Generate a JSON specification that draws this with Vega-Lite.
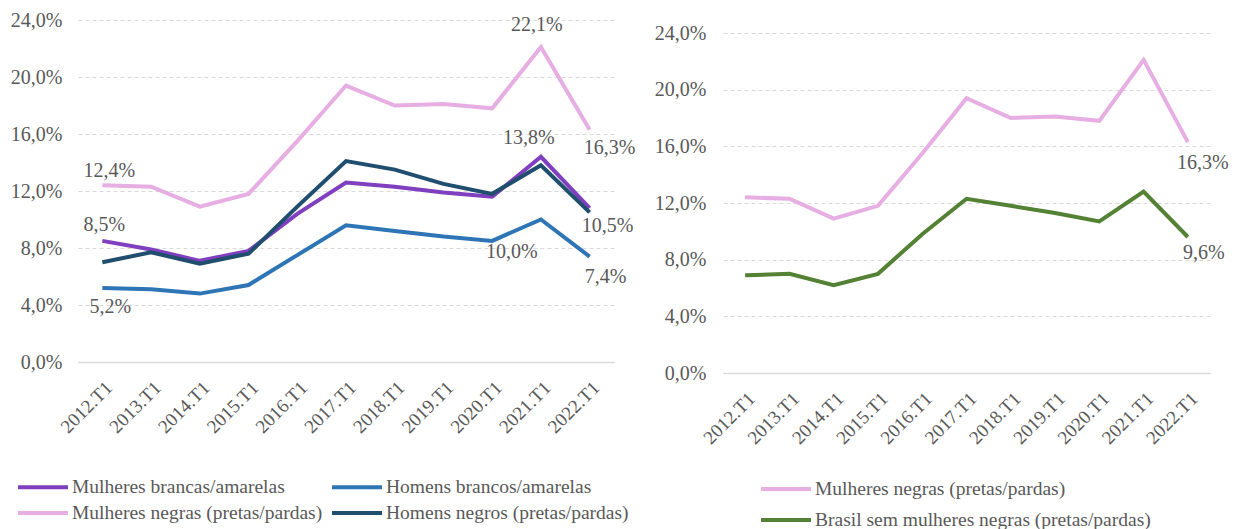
{
  "$schema": "https://vega.github.io/schema/vega-lite/v6.json",
  "padding": {"left": 10, "top": 10, "right": 0, "bottom": 0},
  "background": "white",
  "config": {
    "view": {"stroke": null},
    "locale": {"number": {"decimal": ",", "thousands": ".", "grouping": [3], "currency": ["R$", ""]}},
    "text": {"font": "Liberation Serif", "fontSize": 20, "color": "#595959"},
    "axis": {"labelFont": "Liberation Serif", "labelColor": "#595959", "title": null}
  },
  "datasets": {
    "esq": [
      {"ano": "2012.T1", "serie": "Mulheres brancas/amarelas", "v": 0.085},
      {"ano": "2013.T1", "serie": "Mulheres brancas/amarelas", "v": 0.079},
      {"ano": "2014.T1", "serie": "Mulheres brancas/amarelas", "v": 0.071},
      {"ano": "2015.T1", "serie": "Mulheres brancas/amarelas", "v": 0.078},
      {"ano": "2016.T1", "serie": "Mulheres brancas/amarelas", "v": 0.104},
      {"ano": "2017.T1", "serie": "Mulheres brancas/amarelas", "v": 0.126},
      {"ano": "2018.T1", "serie": "Mulheres brancas/amarelas", "v": 0.123},
      {"ano": "2019.T1", "serie": "Mulheres brancas/amarelas", "v": 0.119},
      {"ano": "2020.T1", "serie": "Mulheres brancas/amarelas", "v": 0.116},
      {"ano": "2021.T1", "serie": "Mulheres brancas/amarelas", "v": 0.144},
      {"ano": "2022.T1", "serie": "Mulheres brancas/amarelas", "v": 0.108},
      {"ano": "2012.T1", "serie": "Homens brancos/amarelas", "v": 0.052},
      {"ano": "2013.T1", "serie": "Homens brancos/amarelas", "v": 0.051},
      {"ano": "2014.T1", "serie": "Homens brancos/amarelas", "v": 0.048},
      {"ano": "2015.T1", "serie": "Homens brancos/amarelas", "v": 0.054},
      {"ano": "2016.T1", "serie": "Homens brancos/amarelas", "v": 0.075},
      {"ano": "2017.T1", "serie": "Homens brancos/amarelas", "v": 0.096},
      {"ano": "2018.T1", "serie": "Homens brancos/amarelas", "v": 0.092},
      {"ano": "2019.T1", "serie": "Homens brancos/amarelas", "v": 0.088},
      {"ano": "2020.T1", "serie": "Homens brancos/amarelas", "v": 0.085},
      {"ano": "2021.T1", "serie": "Homens brancos/amarelas", "v": 0.100},
      {"ano": "2022.T1", "serie": "Homens brancos/amarelas", "v": 0.074},
      {"ano": "2012.T1", "serie": "Mulheres negras (pretas/pardas)", "v": 0.124},
      {"ano": "2013.T1", "serie": "Mulheres negras (pretas/pardas)", "v": 0.123},
      {"ano": "2014.T1", "serie": "Mulheres negras (pretas/pardas)", "v": 0.109},
      {"ano": "2015.T1", "serie": "Mulheres negras (pretas/pardas)", "v": 0.118},
      {"ano": "2016.T1", "serie": "Mulheres negras (pretas/pardas)", "v": 0.155},
      {"ano": "2017.T1", "serie": "Mulheres negras (pretas/pardas)", "v": 0.194},
      {"ano": "2018.T1", "serie": "Mulheres negras (pretas/pardas)", "v": 0.180},
      {"ano": "2019.T1", "serie": "Mulheres negras (pretas/pardas)", "v": 0.181},
      {"ano": "2020.T1", "serie": "Mulheres negras (pretas/pardas)", "v": 0.178},
      {"ano": "2021.T1", "serie": "Mulheres negras (pretas/pardas)", "v": 0.221},
      {"ano": "2022.T1", "serie": "Mulheres negras (pretas/pardas)", "v": 0.163},
      {"ano": "2012.T1", "serie": "Homens negros (pretas/pardas)", "v": 0.070},
      {"ano": "2013.T1", "serie": "Homens negros (pretas/pardas)", "v": 0.077},
      {"ano": "2014.T1", "serie": "Homens negros (pretas/pardas)", "v": 0.069},
      {"ano": "2015.T1", "serie": "Homens negros (pretas/pardas)", "v": 0.076},
      {"ano": "2016.T1", "serie": "Homens negros (pretas/pardas)", "v": 0.109},
      {"ano": "2017.T1", "serie": "Homens negros (pretas/pardas)", "v": 0.141},
      {"ano": "2018.T1", "serie": "Homens negros (pretas/pardas)", "v": 0.135},
      {"ano": "2019.T1", "serie": "Homens negros (pretas/pardas)", "v": 0.125},
      {"ano": "2020.T1", "serie": "Homens negros (pretas/pardas)", "v": 0.118},
      {"ano": "2021.T1", "serie": "Homens negros (pretas/pardas)", "v": 0.138},
      {"ano": "2022.T1", "serie": "Homens negros (pretas/pardas)", "v": 0.105}
    ],
    "dir": [
      {"ano": "2012.T1", "serie": "Mulheres negras (pretas/pardas)", "v": 0.124},
      {"ano": "2013.T1", "serie": "Mulheres negras (pretas/pardas)", "v": 0.123},
      {"ano": "2014.T1", "serie": "Mulheres negras (pretas/pardas)", "v": 0.109},
      {"ano": "2015.T1", "serie": "Mulheres negras (pretas/pardas)", "v": 0.118},
      {"ano": "2016.T1", "serie": "Mulheres negras (pretas/pardas)", "v": 0.155},
      {"ano": "2017.T1", "serie": "Mulheres negras (pretas/pardas)", "v": 0.194},
      {"ano": "2018.T1", "serie": "Mulheres negras (pretas/pardas)", "v": 0.180},
      {"ano": "2019.T1", "serie": "Mulheres negras (pretas/pardas)", "v": 0.181},
      {"ano": "2020.T1", "serie": "Mulheres negras (pretas/pardas)", "v": 0.178},
      {"ano": "2021.T1", "serie": "Mulheres negras (pretas/pardas)", "v": 0.221},
      {"ano": "2022.T1", "serie": "Mulheres negras (pretas/pardas)", "v": 0.163},
      {"ano": "2012.T1", "serie": "Brasil sem mulheres negras (pretas/pardas)", "v": 0.069},
      {"ano": "2013.T1", "serie": "Brasil sem mulheres negras (pretas/pardas)", "v": 0.070},
      {"ano": "2014.T1", "serie": "Brasil sem mulheres negras (pretas/pardas)", "v": 0.062},
      {"ano": "2015.T1", "serie": "Brasil sem mulheres negras (pretas/pardas)", "v": 0.070},
      {"ano": "2016.T1", "serie": "Brasil sem mulheres negras (pretas/pardas)", "v": 0.098},
      {"ano": "2017.T1", "serie": "Brasil sem mulheres negras (pretas/pardas)", "v": 0.123},
      {"ano": "2018.T1", "serie": "Brasil sem mulheres negras (pretas/pardas)", "v": 0.118},
      {"ano": "2019.T1", "serie": "Brasil sem mulheres negras (pretas/pardas)", "v": 0.113},
      {"ano": "2020.T1", "serie": "Brasil sem mulheres negras (pretas/pardas)", "v": 0.107},
      {"ano": "2021.T1", "serie": "Brasil sem mulheres negras (pretas/pardas)", "v": 0.128},
      {"ano": "2022.T1", "serie": "Brasil sem mulheres negras (pretas/pardas)", "v": 0.096}
    ]
  },
  "hconcat": [
    {
      "width": 536,
      "height": 342,
      "data": {"name": "esq"},
      "encoding": {
        "x": {"field": "ano", "type": "ordinal", "scale": {"type": "point", "padding": 0.5},
          "axis": {"labelAngle": -45, "labelFontSize": 19, "labelPadding": 16, "ticks": false, "grid": false, "domainColor": "#D9D9D9", "domainWidth": 1.5}},
        "y": {"field": "v", "type": "quantitative", "scale": {"domain": [0, 0.24], "nice": false},
          "axis": {"values": [0, 0.04, 0.08, 0.12, 0.16, 0.2, 0.24], "format": ".1%", "labelFontSize": 20, "labelPadding": 16, "domain": false, "ticks": false, "gridColor": "#D9D9D9", "gridDash": [4, 3], "gridWidth": 1}}
      },
      "layer": [
        {"mark": {"type": "line", "strokeWidth": 4},
          "encoding": {"color": {"field": "serie", "type": "nominal",
            "scale": {"domain": ["Mulheres brancas/amarelas", "Mulheres negras (pretas/pardas)", "Homens brancos/amarelas", "Homens negros (pretas/pardas)"],
              "range": ["#7F3FBF", "#E6AEE2", "#2E75B6", "#1F4E6E"]},
            "legend": {"orient": "none", "legendX": -47, "legendY": 455, "columns": 2, "columnPadding": 1, "rowPadding": 4, "symbolType": "M-2.5,0H2.5", "symbolSize": 400, "symbolStrokeWidth": 4, "labelFont": "Liberation Serif", "labelFontSize": 19.5, "labelColor": "#595959", "labelOffset": 17, "labelLimit": 0, "title": null}}}},
        {"transform": [{"filter": "datum.serie == 'Mulheres negras (pretas/pardas)' && datum.ano == '2012.T1'"}],
          "mark": {"type": "text", "dx": 7, "dy": -14}, "encoding": {"text": {"field": "v", "type": "quantitative", "format": ".1%"}}},
        {"transform": [{"filter": "datum.serie == 'Mulheres brancas/amarelas' && datum.ano == '2012.T1'"}],
          "mark": {"type": "text", "dx": 2, "dy": -16}, "encoding": {"text": {"field": "v", "type": "quantitative", "format": ".1%"}}},
        {"transform": [{"filter": "datum.serie == 'Homens brancos/amarelas' && datum.ano == '2012.T1'"}],
          "mark": {"type": "text", "dx": 8, "dy": 19}, "encoding": {"text": {"field": "v", "type": "quantitative", "format": ".1%"}}},
        {"transform": [{"filter": "datum.serie == 'Mulheres negras (pretas/pardas)' && datum.ano == '2021.T1'"}],
          "mark": {"type": "text", "dx": -4, "dy": -22}, "encoding": {"text": {"field": "v", "type": "quantitative", "format": ".1%"}}},
        {"transform": [{"filter": "datum.serie == 'Homens negros (pretas/pardas)' && datum.ano == '2021.T1'"}],
          "mark": {"type": "text", "dx": -12, "dy": -27}, "encoding": {"text": {"field": "v", "type": "quantitative", "format": ".1%"}}},
        {"transform": [{"filter": "datum.serie == 'Mulheres negras (pretas/pardas)' && datum.ano == '2022.T1'"}],
          "mark": {"type": "text", "dx": 20, "dy": 18}, "encoding": {"text": {"field": "v", "type": "quantitative", "format": ".1%"}}},
        {"transform": [{"filter": "datum.serie == 'Homens negros (pretas/pardas)' && datum.ano == '2022.T1'"}],
          "mark": {"type": "text", "dx": 18, "dy": 14}, "encoding": {"text": {"field": "v", "type": "quantitative", "format": ".1%"}}},
        {"transform": [{"filter": "datum.serie == 'Homens brancos/amarelas' && datum.ano == '2021.T1'"}],
          "mark": {"type": "text", "dx": -29, "dy": 32}, "encoding": {"text": {"field": "v", "type": "quantitative", "format": ".1%"}}},
        {"transform": [{"filter": "datum.serie == 'Homens brancos/amarelas' && datum.ano == '2022.T1'"}],
          "mark": {"type": "text", "dx": 16, "dy": 20}, "encoding": {"text": {"field": "v", "type": "quantitative", "format": ".1%"}}}
      ]
    },
    {
      "width": 487,
      "height": 353,
      "data": {"name": "dir"},
      "encoding": {
        "x": {"field": "ano", "type": "ordinal", "scale": {"type": "point", "padding": 0.5},
          "axis": {"labelAngle": -45, "labelFontSize": 19, "labelPadding": 16, "ticks": false, "grid": false, "domainColor": "#D9D9D9", "domainWidth": 1.5}},
        "y": {"field": "v", "type": "quantitative", "scale": {"domain": [0, 0.24918], "nice": false},
          "axis": {"values": [0, 0.04, 0.08, 0.12, 0.16, 0.2, 0.24], "format": ".1%", "labelFontSize": 20, "labelPadding": 17, "domain": false, "ticks": false, "gridColor": "#D9D9D9", "gridDash": [4, 3], "gridWidth": 1}}
      },
      "layer": [
        {"mark": {"type": "line", "strokeWidth": 4},
          "encoding": {"color": {"field": "serie", "type": "nominal",
            "scale": {"domain": ["Mulheres negras (pretas/pardas)", "Brasil sem mulheres negras (pretas/pardas)"],
              "range": ["#E6AEE2", "#548235"]},
            "legend": {"orient": "none", "legendX": 51, "legendY": 457, "rowPadding": 9, "symbolType": "M-2.5,0H2.5", "symbolSize": 400, "symbolStrokeWidth": 4, "labelFont": "Liberation Serif", "labelFontSize": 19.5, "labelColor": "#595959", "labelOffset": 17, "labelLimit": 0, "title": null}}}},
        {"transform": [{"filter": "datum.serie == 'Mulheres negras (pretas/pardas)' && datum.ano == '2022.T1'"}],
          "mark": {"type": "text", "dx": 15, "dy": 21}, "encoding": {"text": {"field": "v", "type": "quantitative", "format": ".1%"}}},
        {"transform": [{"filter": "datum.serie == 'Brasil sem mulheres negras (pretas/pardas)' && datum.ano == '2022.T1'"}],
          "mark": {"type": "text", "dx": 16, "dy": 16}, "encoding": {"text": {"field": "v", "type": "quantitative", "format": ".1%"}}}
      ]
    }
  ],
  "spacing": 109,
  "bounds": "flush",
  "resolve": {"scale": {"color": "independent", "x": "independent", "y": "independent"}, "legend": {"color": "independent"}}
}
